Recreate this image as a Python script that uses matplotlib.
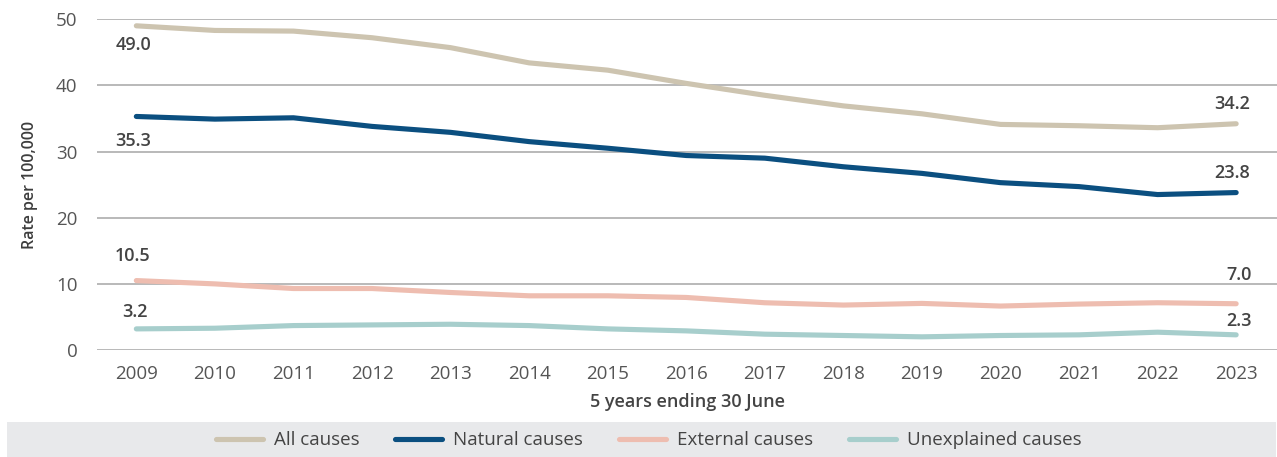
import numpy as np
import matplotlib
matplotlib.use("Agg")
import matplotlib.pyplot as plt
from matplotlib.patches import Rectangle

plt.rcParams['font.family'] = ['Open Sans', 'DejaVu Sans']

# datos
years = [2009, 2010, 2011, 2012, 2013, 2014, 2015, 2016, 2017, 2018, 2019, 2020, 2021, 2022, 2023]
all_causes = [49.0, 48.3, 48.2, 47.2, 45.7, 43.4, 42.3, 40.3, 38.5, 36.9, 35.7, 34.1, 33.9, 33.6, 34.2]
natural = [35.3, 34.9, 35.1, 33.8, 32.9, 31.5, 30.5, 29.4, 29.0, 27.7, 26.7, 25.3, 24.7, 23.5, 23.8]
external = [10.5, 10.0, 9.3, 9.3, 8.7, 8.2, 8.2, 7.95, 7.15, 6.8, 7.05, 6.65, 6.95, 7.15, 7.0]
unexplained = [3.2, 3.3, 3.7, 3.8, 3.9, 3.7, 3.2, 2.9, 2.4, 2.2, 2.0, 2.2, 2.3, 2.7, 2.3]

series_names = ["All causes", "Natural causes", "External causes", "Unexplained causes"]
colors = ["#CDC4B0", "#0B4F80", "#EEBDB0", "#A7CECC"]

fig = plt.figure(figsize=(12.77, 4.57), dpi=100)
ax = fig.add_axes([0.076, 0.234, 0.924, 0.724])

all_series = [all_causes, natural, external, unexplained]
for vals, name, col in zip(all_series, series_names, colors):
    ax.plot(years, vals, color=col, lw=3.7, label=name, solid_capstyle='round', zorder=3)

ax.set_xlim(2008.5, 2023.52)
ax.set_ylim(0, 50)
ax.set_yticks([0, 10, 20, 30, 40, 50])
ax.set_xticks(years)
ax.grid(axis='y', color='#A6A6A6', lw=1.1, zorder=1)
for s in ax.spines.values():
    s.set_visible(False)
ax.tick_params(length=0, labelsize=13.5, colors='#555555')
ax.tick_params(axis='y', pad=14)
ax.tick_params(axis='x', pad=11)
ax.set_xlabel("5 years ending 30 June", fontsize=13, fontweight='semibold', color='#444444', labelpad=7)
ax.set_ylabel("Rate per 100,000", fontsize=11.5, fontweight='semibold', color='#3d3d3d', labelpad=13)

# etiquetas de inicio y fin
lab_style = dict(fontsize=13, fontweight='semibold', color='#444444', ha='center', va='center',
                 textcoords='offset points')
offsets_first = [(-2, -14), (-2, -18), (-3, 18), (-1, 12)]
offsets_last = [(-3, 14), (-3, 14), (2, 21), (2, 10)]
for vals, o1, o2 in zip(all_series, offsets_first, offsets_last):
    ax.annotate(f"{vals[0]:.1f}", (years[0], vals[0]), xytext=o1, **lab_style)
    ax.annotate(f"{vals[-1]:.1f}", (years[-1], vals[-1]), xytext=o2, **lab_style)

# franja gris de la leyenda
fig.patches.append(Rectangle((0.0055, 0.0), 0.994, 0.076, transform=fig.transFigure,
                             facecolor='#E8E9EB', edgecolor='none', zorder=0))
leg = fig.legend(loc='center', bbox_to_anchor=(0.508, 0.037), ncol=4, frameon=False,
                 fontsize=13.5, handlelength=2.5, handletextpad=0.6, columnspacing=1.9)
for t in leg.get_texts():
    t.set_color('#444444')

fig.savefig("out.png", dpi=100)
